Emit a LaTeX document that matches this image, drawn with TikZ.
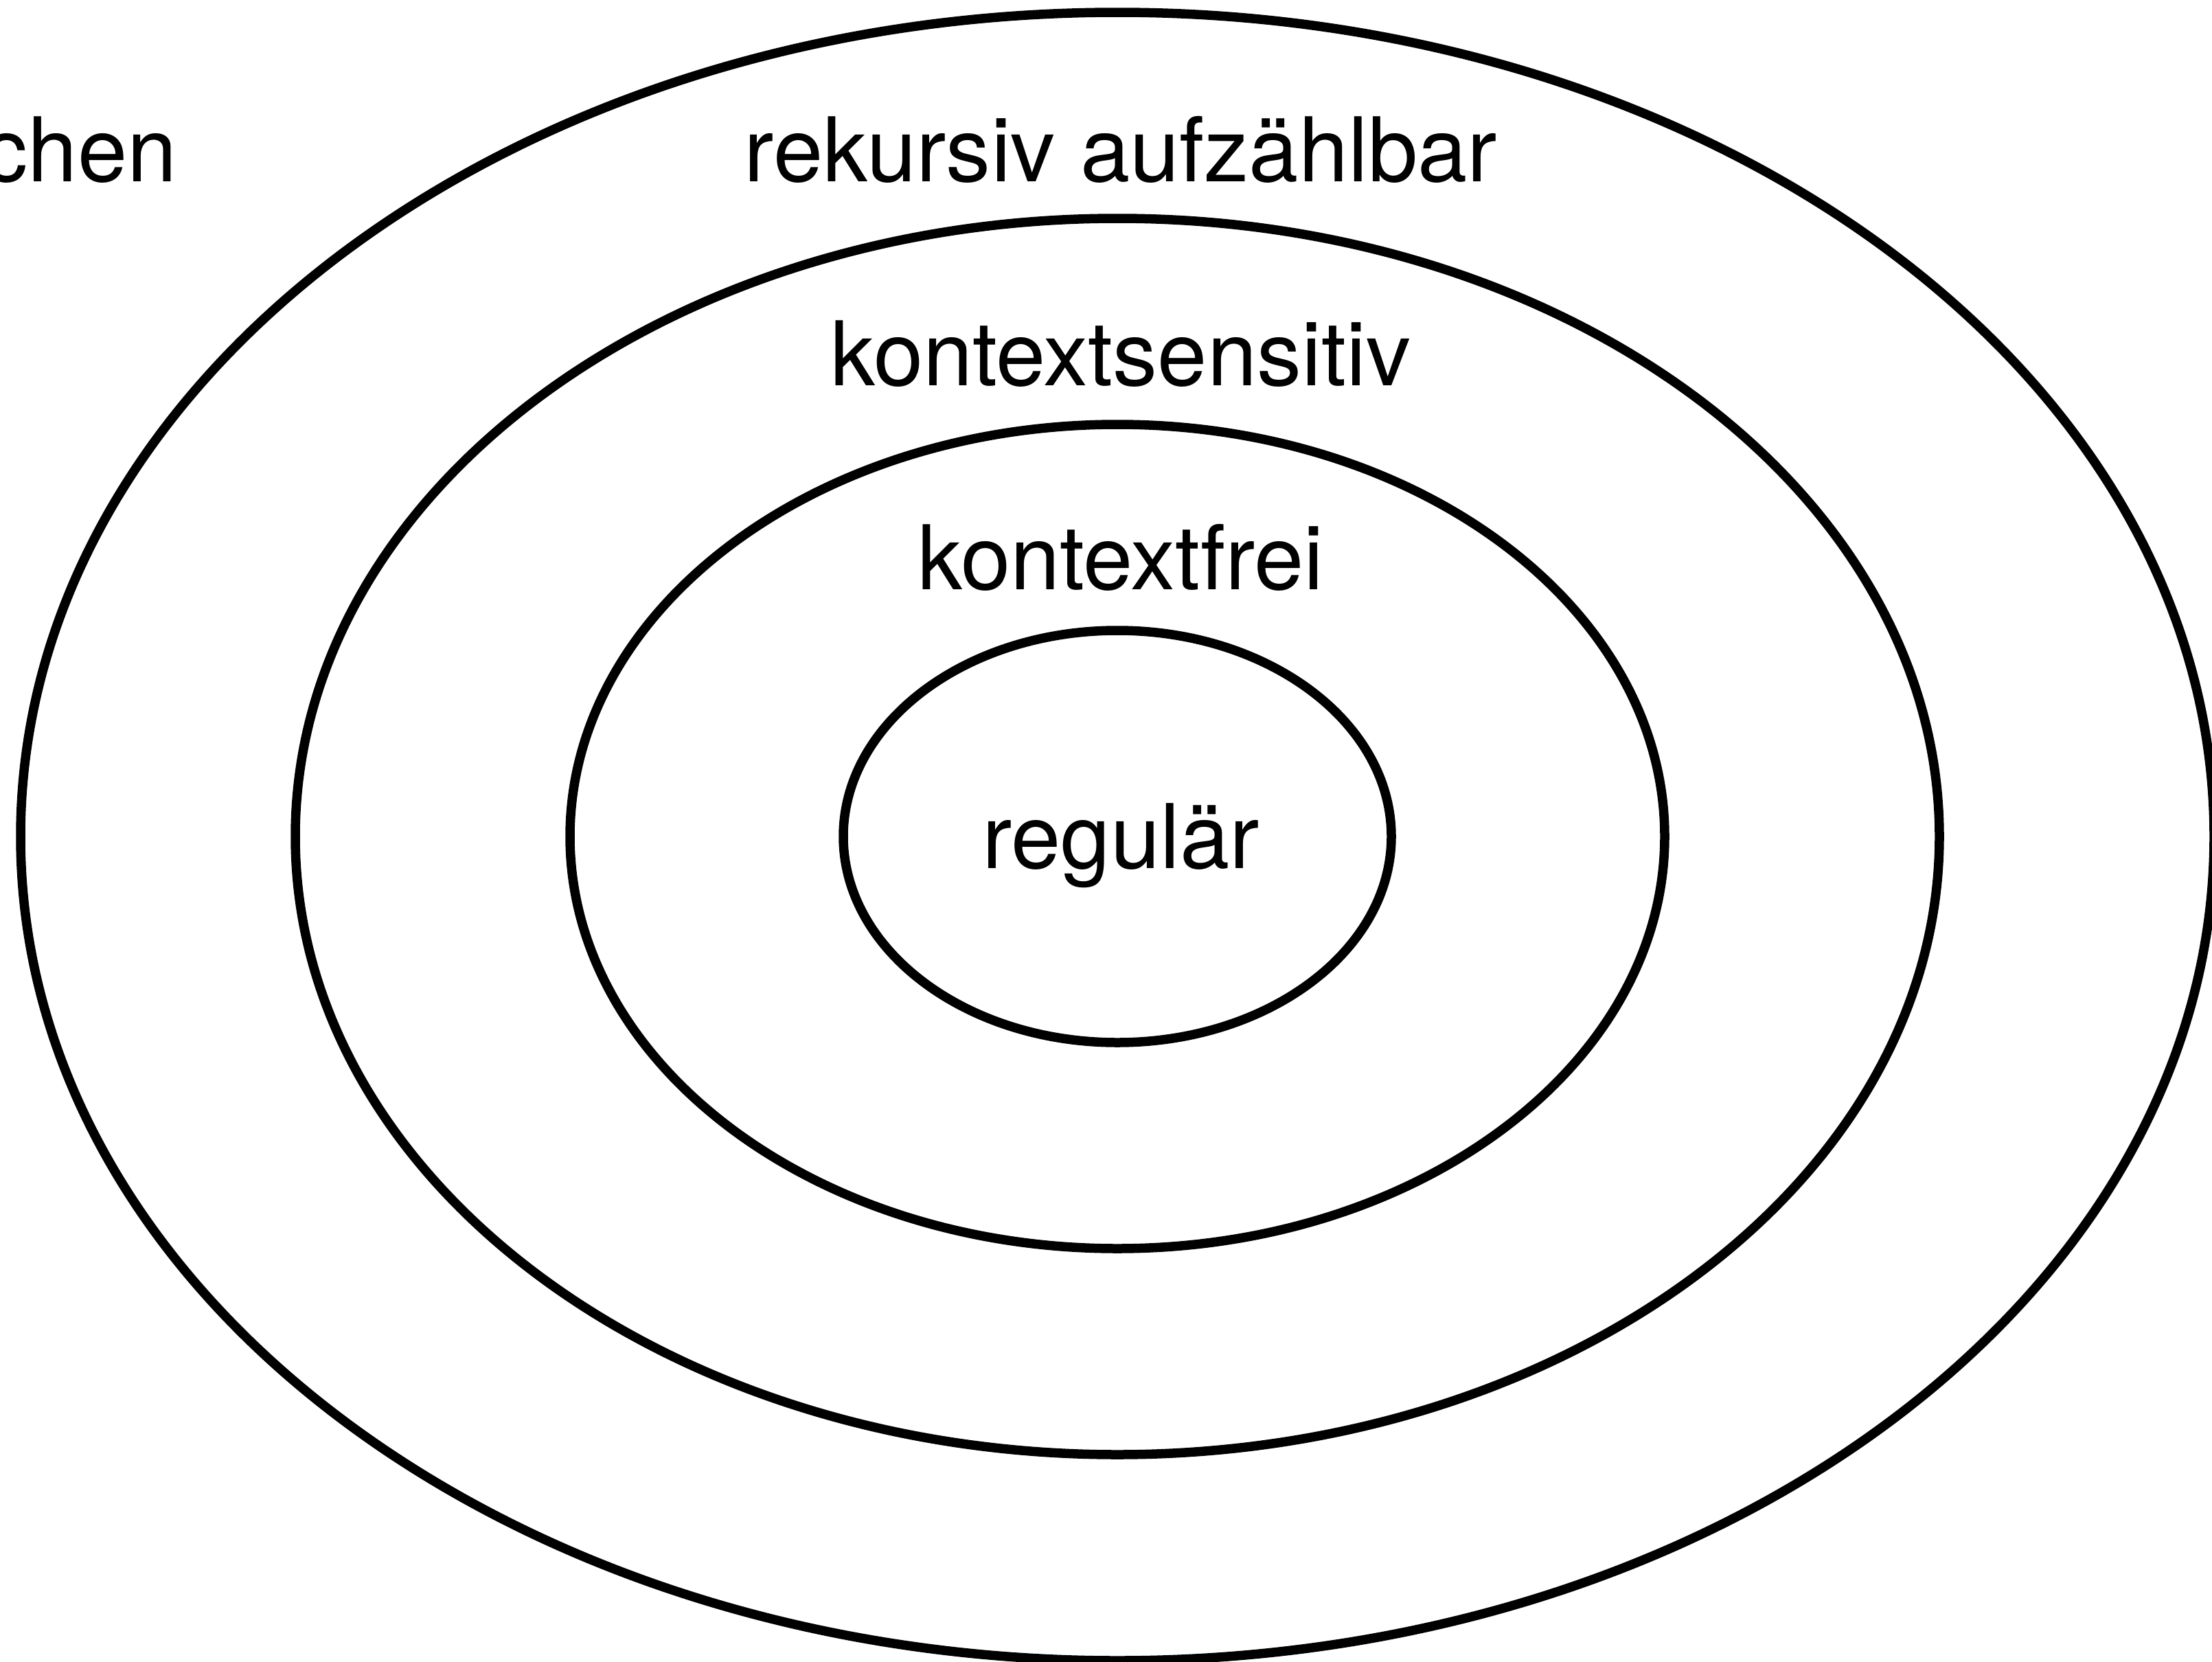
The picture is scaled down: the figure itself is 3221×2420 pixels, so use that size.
\documentclass[tikz,border=0pt]{standalone}
\usepackage{fontspec}
\setmainfont{TeX Gyre Heros}
\begin{document}
\begin{tikzpicture}[x=1pt,y=-1pt,
  ring/.style={draw=black,line width=13.5pt},
  label/.style={anchor=base,inner sep=0pt,font=\fontsize{130}{156}\selectfont}]
\useasboundingbox (0,0) rectangle (3221,2420);
\coordinate (ctr) at (1627,1218);
% nested language classes
\draw[ring] (ctr) ellipse [x radius=1597pt, y radius=1200pt];
\draw[ring] (ctr) ellipse [x radius=1197pt, y radius=900pt];
\draw[ring] (ctr) ellipse [x radius=797pt, y radius=600pt];
\draw[ring] (ctr) ellipse [x radius=399pt, y radius=300pt];
% class names
\node[label,anchor=base east] (all) at (258,264) {chen};
\node[label] (re) at (1632,264) {rekursiv aufzählbar};
\node[label] (cs) at (1632,561) {kontextsensitiv};
\node[label] (cf) at (1632,858) {kontextfrei};
\node[label] (reg) at (1632,1264) {regulär};
\end{tikzpicture}
\end{document}
